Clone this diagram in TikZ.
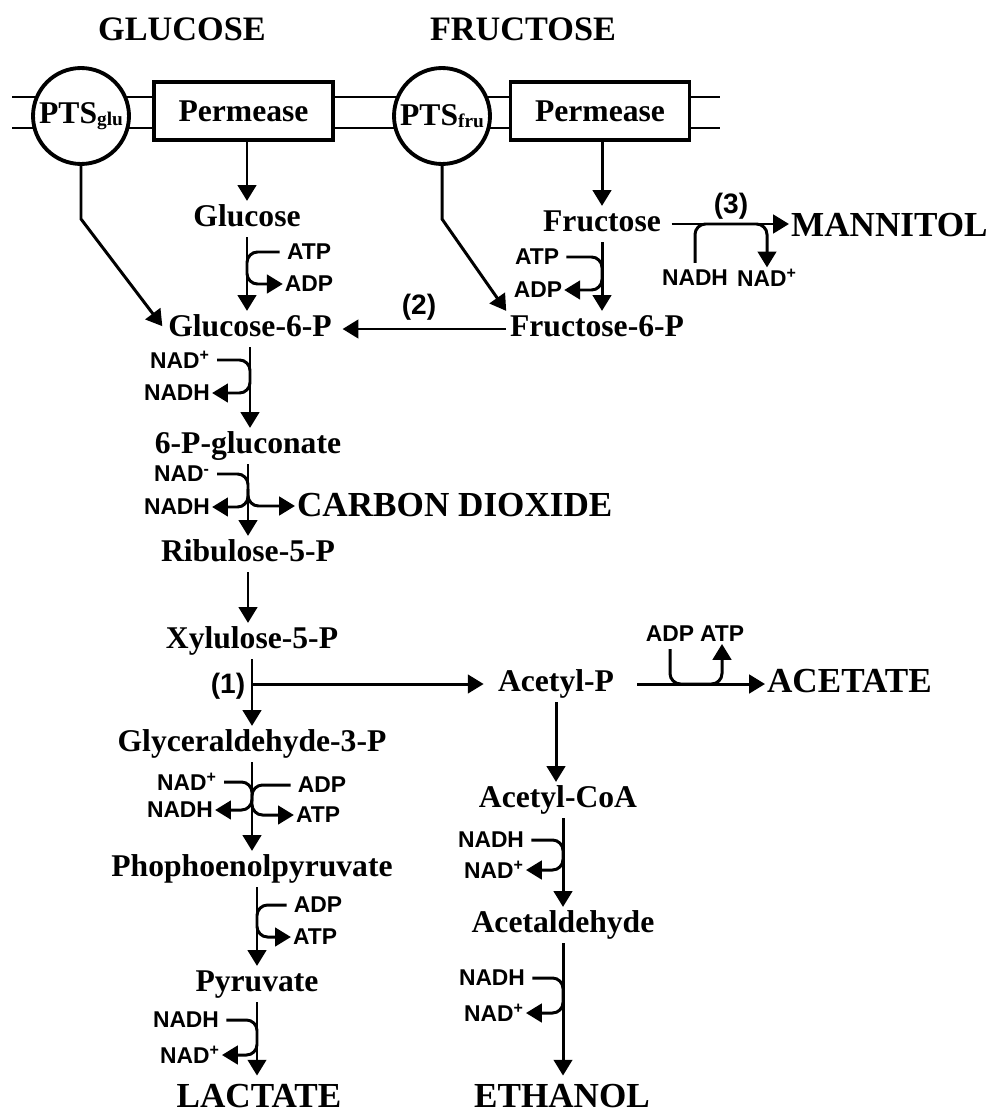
\documentclass[tikz,border=0pt]{standalone}
\usepackage{fontspec}
\setmainfont{Liberation Serif}
\newfontfamily\labfont{Liberation Sans}
\usetikzlibrary{arrows.meta, calc}
\tikzset{
  title/.style = {font=\bfseries\fontsize{19.5}{19.5}\selectfont, inner sep=2pt},
  met/.style   = {font=\bfseries\fontsize{18}{18}\selectfont,
                  text height=12.6pt, text depth=3.6pt, inner sep=2pt},
  prod/.style  = {font=\bfseries\fontsize{20}{20}\selectfont,
                  text height=14pt, text depth=2pt, inner sep=1pt},
  perm/.style  = {rectangle, draw, line width=2.2pt, fill=white,
                  minimum width=3.58cm, minimum height=1.16cm,
                  font=\bfseries\fontsize{18}{18}\selectfont},
  pts/.style   = {circle, draw, line width=2.2pt, fill=white,
                  minimum size=1.92cm, inner sep=0pt,
                  font=\bfseries\fontsize{18}{18}\selectfont},
  cof/.style   = {font=\labfont\bfseries\fontsize{13}{13}\selectfont, inner sep=1pt},
  num/.style   = {font=\labfont\bfseries\fontsize{16}{16}\selectfont, inner sep=1pt},
  memb/.style  = {line width=1.2pt},
  arr/.style   = {-{Triangle[length=9pt,width=10.5pt]}, line width=1.7pt},
  hook/.style  = {arr, rounded corners=6pt, shorten <=3pt},
}
\newcommand{\subt}[1]{\raisebox{-1pt}{\fontsize{11}{11}\selectfont #1}}

\begin{document}
\begin{tikzpicture}[x=0.02cm, y=-0.02cm]
  \useasboundingbox (0,0) rectangle (991,1115);

  % membrane
  \draw[memb] (12,97) -- (720,97);
  \draw[memb] (12,128) -- (720,128);

  \node[title] (tglc) at (182,29) {GLUCOSE};
  \node[title] (tfru) at (523,29) {FRUCTOSE};
  \node[pts]  (ptsg)  at (81,116)    {PTS\subt{glu}};
  \node[perm] (permg) at (243.5,111) {Permease};
  \node[pts]  (ptsf)  at (442,116)   {PTS\subt{fru}};
  \node[perm] (permf) at (600,111)   {Permease};

  % metabolites
  \node[met] (glc)   at (247,219) {Glucose};
  \node[met] (g6p)   at (250,329) {Glucose-6-P};
  \node[met] (fru)   at (602,224) {Fructose};
  \node[met] (f6p)   at (597,329) {Fructose-6-P};
  \node[met] (pgl)   at (248,446) {6-P-gluconate};
  \node[met] (ru5p)  at (248,554) {Ribulose-5-P};
  \node[met] (xu5p)  at (252,641) {Xylulose-5-P};
  \node[met] (gap)   at (252,744) {Glyceraldehyde-3-P};
  \node[met] (pep)   at (252,869) {Phophoenolpyruvate};
  \node[met] (pyr)   at (257,984) {Pyruvate};
  \node[met] (acp)   at (556,684) {Acetyl-P};
  \node[met] (acoa)  at (558,800) {Acetyl-CoA};
  \node[met] (acald) at (563,925) {Acetaldehyde};

  % end products
  \node[prod, anchor=west] (mann) at (789,226) {MANNITOL};
  \node[prod, anchor=west] (co2)  at (295,506) {CARBON DIOXIDE};
  \node[prod, anchor=west] (acet) at (765,682) {ACETATE};
  \node[prod] (lac) at (259,1097) {LACTATE};
  \node[prod] (eth) at (562,1097) {ETHANOL};

  % cofactors
  \node[cof] (atp1)  at (309,252)  {ATP};
  \node[cof] (adp1)  at (309,284)  {ADP};
  \node[cof] (atp2)  at (537,257)  {ATP};
  \node[cof] (adp2)  at (538,290)  {ADP};
  \node[cof] (nadh3) at (695,278)  {NADH};
  \node[cof] (nad3)  at (767,278)  {NAD\textsuperscript{+}};
  \node[cof] (nadp1) at (180,360)  {NAD\textsuperscript{+}};
  \node[cof] (nadh1) at (177,393)  {NADH};
  \node[cof] (nadm2) at (182,474)  {NAD\textsuperscript{-}};
  \node[cof] (nadh2) at (177,507)  {NADH};
  \node[cof] (nadp5) at (187,782)  {NAD\textsuperscript{+}};
  \node[cof] (nadh5) at (180,810)  {NADH};
  \node[cof] (adp5)  at (322,785)  {ADP};
  \node[cof] (atp5)  at (318,815)  {ATP};
  \node[cof] (adp6)  at (318,905)  {ADP};
  \node[cof] (atp6)  at (315,937)  {ATP};
  \node[cof] (nadh7) at (186,1020) {NADH};
  \node[cof] (nadp7) at (190,1055) {NAD\textsuperscript{+}};
  \node[cof] (adp8)  at (670,634)  {ADP};
  \node[cof] (atp8)  at (722,634)  {ATP};
  \node[cof] (nadh9) at (491,840)  {NADH};
  \node[cof] (nadp9) at (494,870)  {NAD\textsuperscript{+}};
  \node[cof] (nadh10) at (492,978)  {NADH};
  \node[cof] (nadp10) at (494,1013) {NAD\textsuperscript{+}};

  % reaction numbers
  \node[num] (n1) at (228,686) {(1)};
  \node[num] (n2) at (419,307) {(2)};
  \node[num] (n3) at (731,206) {(3)};

  % uptake
  \draw[arr] (permg.south -| glc.north) -- (glc.north);
  \draw[arr] (permf.south -| fru.north) -- (fru.north);
  \draw[arr, shorten >=2pt] (ptsg.south) -- (ptsg.south |- glc) -- (g6p.west);
  \draw[arr] (ptsf.south) -- (ptsf.south |- glc) -- (f6p.north west);

  % glucose / fructose
  \draw[arr] (glc.south) -- (glc.south |- g6p.north);
  \draw[hook] (atp1.west) -- (atp1.west -| glc.south) -- (adp1.west -| glc.south) -- (adp1.west);
  \draw[arr] (fru.south) -- (fru.south |- f6p.north);
  \draw[hook] (atp2.east) -- (atp2.east -| fru.south) -- (adp2.east -| fru.south) -- (adp2.east);
  \draw[arr, shorten >=4pt] (f6p.west) -- (g6p.east);
  \draw[arr, shorten <=4pt] (fru.east) -- (fru.east -| mann.west);
  \draw[hook] (nadh3.north) -- (nadh3.north |- fru.east) -- (nad3.north |- fru.east) -- (nad3.north);

  % oxidative branch
  \draw[arr] (g6p.south) -- (g6p.south |- pgl.north);
  \draw[hook] (nadp1.east) -- (nadp1.east -| g6p.south) -- (nadh1.east -| g6p.south) -- (nadh1.east);
  \draw[arr] (pgl.south) -- (pgl.south |- ru5p.north);
  \draw[hook] (nadm2.east) -- (nadm2.east -| pgl.south) -- (nadh2.east -| pgl.south) -- (nadh2.east);
  \coordinate (fork) at ($(pgl.south)!0.35!(ru5p.north)$);
  \draw[hook, shorten <=0pt] (fork) |- (co2.west);
  \draw[arr] (ru5p.south) -- (ru5p.south |- xu5p.north);

  % phosphoketolase split
  \draw[arr] (xu5p.south) -- (xu5p.south |- gap.north);
  \draw[arr, shorten >=6pt] (xu5p.south |- acp.west) -- (acp.west);

  % lower glycolysis
  \draw[arr] (gap.south) -- (gap.south |- pep.north);
  \draw[hook] (nadp5.east) -- (nadp5.east -| gap.south) -- (nadh5.east -| gap.south) -- (nadh5.east);
  \draw[hook] (adp5.west) -- (adp5.west -| gap.south) -- (atp5.west -| gap.south) -- (atp5.west);
  \draw[arr] (pep.south -| pyr.north) -- (pyr.north);
  \draw[hook] (adp6.west) -- (adp6.west -| pyr.north) -- (atp6.west -| pyr.north) -- (atp6.west);
  \draw[arr, shorten >=3pt] (pyr.south) -- (pyr.south |- lac.north);
  \draw[hook] (nadh7.east) -- (nadh7.east -| pyr.south) -- (nadp7.east -| pyr.south) -- (nadp7.east);

  % acetyl-P branch
  \draw[arr, shorten <=11pt] (acp.east) -- (acp.east -| acet.west);
  \draw[hook] (adp8.south) -- (adp8.south |- acp.east) -- (atp8.south |- acp.east) -- (atp8.south);
  \draw[arr] (acp.south) -- (acp.south |- acoa.north);
  \draw[arr] (acoa.south -| acald.north) -- (acald.north);
  \draw[hook] (nadh9.east) -- (nadh9.east -| acald.north) -- (nadp9.east -| acald.north) -- (nadp9.east);
  \draw[arr, shorten >=3pt] (acald.south) -- (acald.south |- eth.north);
  \draw[hook] (nadh10.east) -- (nadh10.east -| acald.south) -- (nadp10.east -| acald.south) -- (nadp10.east);

\end{tikzpicture}
\end{document}
